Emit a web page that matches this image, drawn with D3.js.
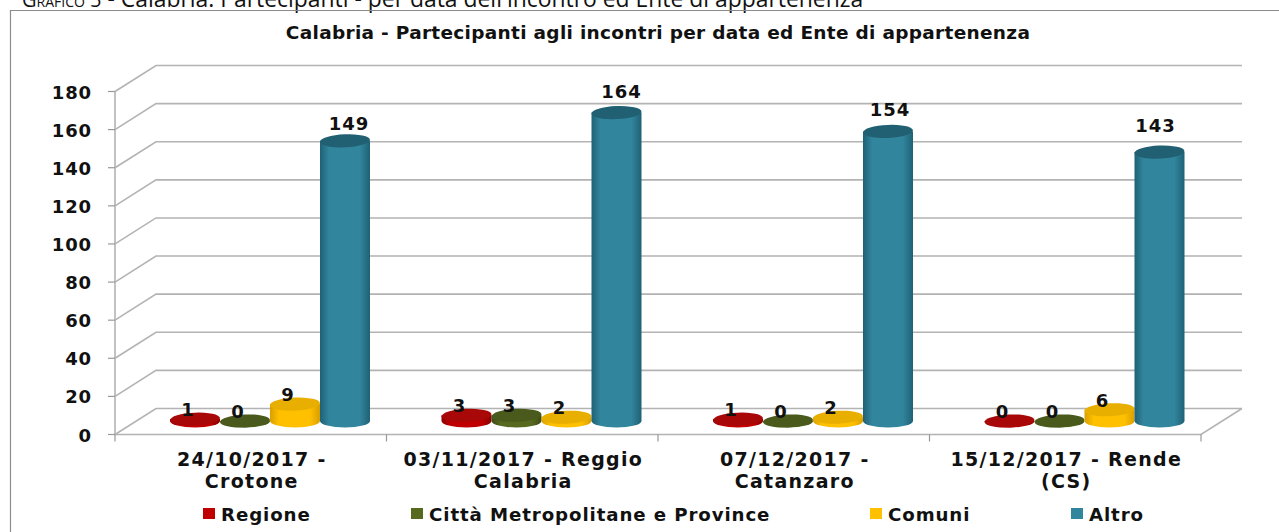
<!DOCTYPE html>
<html>
<head>
<meta charset="utf-8">
<script src="https://cdn.jsdelivr.net/npm/d3@7"></script>
<style>
  html, body { margin: 0; padding: 0; background: #fff; overflow: hidden; }
  text { font-family: "DejaVu Sans", sans-serif; font-weight: bold; fill: #111; }
</style>
</head>
<body>
<div id="chart"></div>
<script>
const categories = [
  ["24/10/2017 -", "Crotone"],
  ["03/11/2017 - Reggio", "Calabria"],
  ["07/12/2017 -", "Catanzaro"],
  ["15/12/2017 - Rende", "(CS)"]
];
const seriesNames = ["Regione", "Città Metropolitane e Province", "Comuni", "Altro"];
const regione = [1, 3, 1, 0];
const citta = [0, 3, 0, 0];
const comuni = [9, 2, 2, 6];
const altro = [149, 164, 154, 143];
const yTicks = [0, 20, 40, 60, 80, 100, 120, 140, 160, 180];
const captionHead = "Grafico 5";
const captionRest = " - Calabria: Partecipanti - per data dell'incontro ed Ente di appartenenza";
const chartTitle = "Calabria - Partecipanti agli incontri per data ed Ente di appartenenza";

const seriesValues = [regione, citta, comuni, altro];
const colors = [
  { mid: "#c00000", dark: "#8a0000", top: "#a80808" },
  { mid: "#56691f", dark: "#3d4c18", top: "#4a5a1c" },
  { mid: "#ffc000", dark: "#d99e00", top: "#e8ae00" },
  { mid: "#31859c", dark: "#1f6176", top: "#215f72" }
];

const width = 1279, height = 532;
const svg = d3.select("#chart").append("svg")
  .attr("width", width)
  .attr("height", height)
  .style("display", "block");

// 3d box: front edge and the shift to the back wall
const depthX = 41, depthY = -26;
const x = d3.scaleBand().domain(d3.range(categories.length)).range([115, 1201]);
const y = d3.scaleLinear().domain([0, 180]).range([434.5, 91.5]);
const seriesX = d3.scaleBand().domain(d3.range(seriesNames.length)).range([56, 256]);
// bars stand mid depth so they grow a little slower than the front axis
const barHeight = d3.scaleLinear().domain([0, 180]).range([0, 338.5]);
const rx = 25, ry = 6.5;
const baseY = 421;
const tilt = -2.5;
// the value labels were nudged by hand in the original
const smallLabelShift = -7, smallLabelGap = 3;
const altroLabelShift = [4, 5, 2, -4];
const altroLabelGap = [11, 15, 15, 20];

const defs = svg.append("defs");
colors.forEach((c, i) => {
  const g = defs.append("linearGradient").attr("id", "cyl" + i);
  g.append("stop").attr("offset", "0%").attr("stop-color", c.dark);
  g.append("stop").attr("offset", "18%").attr("stop-color", c.mid);
  g.append("stop").attr("offset", "80%").attr("stop-color", c.mid);
  g.append("stop").attr("offset", "100%").attr("stop-color", c.dark);
});

// caption cut by the top of the picture
const cap = svg.append("text")
  .attr("x", 22).attr("y", 7)
  .style("font-family", "'Open Sans', sans-serif")
  .style("font-weight", "normal")
  .style("font-size", "22.9px");
cap.append("tspan").style("font-variant", "small-caps").style("font-size", "20px").text(captionHead);
cap.append("tspan").text(captionRest);

// frame, runs off the right and the bottom
svg.append("path")
  .attr("d", `M${width + 2},10.5H10.5V${height + 2}`)
  .attr("fill", "none")
  .attr("stroke", "#8c8c8c")
  .attr("stroke-width", 1.2);

svg.append("text")
  .attr("x", 658).attr("y", 39)
  .attr("text-anchor", "middle")
  .style("font-size", "18.5px")
  .style("letter-spacing", "0.3px")
  .text(chartTitle);

// walls and gridlines
const grid = svg.append("g").attr("fill", "none").attr("stroke", "#b3b3b3").attr("stroke-width", 1.6);
grid.selectAll("path")
  .data(yTicks)
  .join("path")
  .attr("d", d => `M${x.range()[0]},${y(d)}L${x.range()[0] + depthX},${y(d) + depthY}H${x.range()[1] + depthX}`);
grid.append("path")
  .attr("d", `M${x.range()[0]},${y(180)}V${y(0)}H${x.range()[1]}L${x.range()[1] + depthX},${y(0) + depthY}`);

// ticks on both axes
const ticks = svg.append("g").attr("stroke", "#999").attr("stroke-width", 1.2);
ticks.selectAll("line.y")
  .data(yTicks)
  .join("line")
  .attr("class", "y")
  .attr("x1", 108).attr("x2", x.range()[0])
  .attr("y1", d => y(d)).attr("y2", d => y(d));
ticks.selectAll("line.x")
  .data(d3.range(categories.length + 1))
  .join("line")
  .attr("class", "x")
  .attr("x1", d => 115 + d * x.step()).attr("x2", d => 115 + d * x.step())
  .attr("y1", y(0)).attr("y2", y(0) + 7);

svg.append("g").selectAll("text")
  .data(yTicks)
  .join("text")
  .attr("x", 92).attr("y", d => y(d) + 7)
  .attr("text-anchor", "end")
  .style("font-size", "18px")
  .style("letter-spacing", "0.9px")
  .text(d => d);

// cylinders
const bars = svg.append("g");
const labels = [];
categories.forEach((cat, ci) => {
  seriesValues.forEach((vals, si) => {
    const cx = x(ci) + seriesX(si) + seriesX.bandwidth() / 2 - 1;
    const top = baseY - barHeight(vals[ci]);
    const g = bars.append("g");
    g.append("path")
      .attr("d", `M${cx - rx},${top}V${baseY}A${rx},${ry} 0 0 0 ${cx + rx},${baseY}V${top}Z`)
      .attr("fill", `url(#cyl${si})`);
    g.append("ellipse")
      .attr("cx", cx).attr("cy", top)
      .attr("rx", rx).attr("ry", ry)
      .attr("transform", `rotate(${tilt} ${cx} ${top})`)
      .attr("fill", colors[si].top);
    const tall = si === 3;
    labels.push({
      x: cx + (tall ? altroLabelShift[ci] : smallLabelShift),
      y: top - (tall ? altroLabelGap[ci] : smallLabelGap),
      text: vals[ci]
    });
  });
});

// labels go last, in the original they sit over the bars
svg.append("g").selectAll("text")
  .data(labels)
  .join("text")
  .attr("x", d => d.x).attr("y", d => d.y)
  .attr("text-anchor", "middle")
  .style("font-size", "18px")
  .style("letter-spacing", "0.9px")
  .text(d => d.text);

// category labels
const catLabels = svg.append("g").selectAll("text")
  .data(categories)
  .join("text")
  .attr("text-anchor", "middle")
  .style("font-size", "19px")
  .style("letter-spacing", "1.3px");
catLabels.append("tspan")
  .attr("x", (d, i) => x(i) + x.bandwidth() / 2 + 1)
  .attr("y", 466)
  .text(d => d[0]);
catLabels.append("tspan")
  .attr("x", (d, i) => x(i) + x.bandwidth() / 2 + 1)
  .attr("y", 488)
  .text(d => d[1]);

// legend
const legendX = [203, 411, 870, 1071];
const legend = svg.append("g").selectAll("g")
  .data(seriesNames)
  .join("g")
  .attr("transform", (d, i) => `translate(${legendX[i]},508)`);
legend.append("rect")
  .attr("width", 12).attr("height", 11)
  .attr("fill", (d, i) => colors[i].mid);
legend.append("text")
  .attr("x", 18).attr("y", 13)
  .style("font-size", "18.2px")
  .style("letter-spacing", "0.9px")
  .text(d => d);
</script>
</body>
</html>
